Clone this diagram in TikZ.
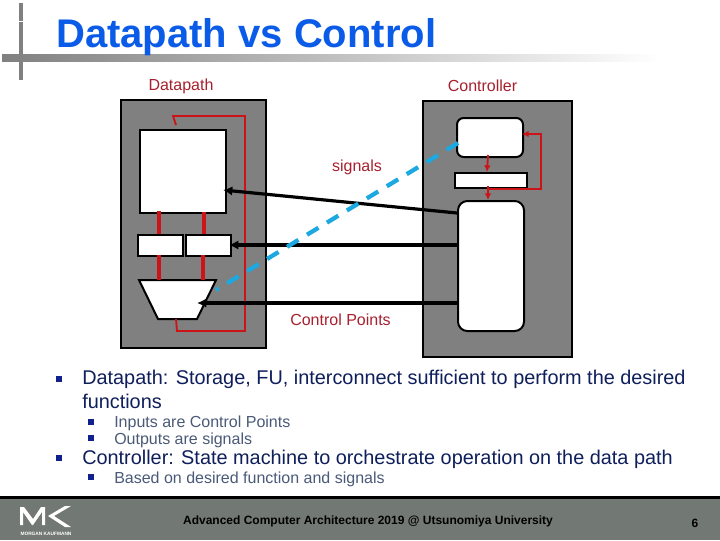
\documentclass[tikz,border=0pt]{standalone}
\usepackage{fontspec}
\setmainfont{Liberation Sans}
\usetikzlibrary{arrows.meta,shapes.geometric,fadings}
\definecolor{titleblue}{HTML}{0A5CE8}
\definecolor{lblred}{HTML}{A8202E}
\definecolor{wirered}{HTML}{CC1418}
\definecolor{sigblue}{HTML}{1CA8E0}
\definecolor{footgray}{HTML}{727873}
\definecolor{bargray}{HTML}{808080}
\definecolor{boxgray}{HTML}{808080}
\definecolor{bulletnavy}{HTML}{10208C}
\definecolor{bodytext}{HTML}{0F1F5C}
\definecolor{subtext}{HTML}{4A5A78}
\tikzset{
  panel/.style={draw=black,line width=1.6pt,fill=boxgray,inner sep=0,anchor=north west},
  block/.style={draw=black,line width=1.5pt,fill=white,inner sep=0,anchor=north west},
  rblock/.style={block,rounded corners=5pt},
  lbl/.style={text=lblred,font=\fontsize{12}{14}\selectfont,inner sep=0},
  wire/.style={draw=wirered,line width=2.4pt},
  thinwire/.style={draw=wirered,line width=1.4pt},
  ctl/.style={draw=black,line width=2.4pt,-{Latex[length=7pt,width=7pt]}},
  sig/.style={draw=sigblue,line width=3.2pt,dash pattern=on 10pt off 7.5pt},
  l1/.style={anchor=base west,inner sep=0,text=bodytext,font=\fontsize{14.9}{16}\selectfont},
  l2/.style={anchor=base west,inner sep=0,text=subtext,font=\fontsize{12}{14}\selectfont},
  bull/.style={fill=bulletnavy,draw=none,minimum size=#1,inner sep=0},
  redtip/.style={-{Latex[length=5pt,width=5pt]},draw=wirered,line width=1.4pt}
}
\begin{document}
\begin{tikzpicture}[x=0.75pt,y=-0.75pt]
\useasboundingbox (0,0) rectangle (720,540);
\fill[white] (0,0) rectangle (720,540);
% frame bars
\fill[bargray] (19,3) rectangle (23,21);
\fill[bargray] (19,22) rectangle (23,80);
\shade[left color=bargray,right color=white] (2,54) rectangle (660,61);
% footer
\fill[footgray] (0,498) rectangle (720,540);
\fill[black] (0,496) rectangle (720,499);
% title
\node[anchor=base west,inner sep=0,text=titleblue,font=\fontsize{30}{32}\selectfont\bfseries] (title) at (56,47) {Datapath vs Control};
% panels
\node[panel,minimum width=145*0.75pt,minimum height=248*0.75pt] (dp) at (120,99) {};
\node[panel,minimum width=149*0.75pt,minimum height=256*0.75pt] (cp) at (422,100) {};
% datapath
\node[block,minimum width=86*0.75pt,minimum height=83*0.75pt] (mem) at (138.5,129) {};
\node[block,minimum width=45*0.75pt,minimum height=21*0.75pt] (rega) at (137,234) {};
\node[block,minimum width=45*0.75pt,minimum height=21*0.75pt] (regb) at (185,234) {};
\draw[black,line width=1.5pt,fill=white] (139,280) coordinate (alutl) -- (216,280) coordinate (alutr) -- (197,319) coordinate (alubr) -- (158,319) coordinate (alubl) -- cycle;
% red wires datapath
\coordinate (la) at (159,211); \coordinate (lb) at (159,234);
\coordinate (lc) at (204,212); \coordinate (ld) at (204,234);
\coordinate (le) at (159,255); \coordinate (lf) at (159,280);
\coordinate (lg) at (203,255); \coordinate (lh) at (203,280);
\draw[wire] (la) -- (lb);
\draw[wire] (lc) -- (ld);
\draw[wire] (le) -- (lf);
\draw[wire] (lg) -- (lh);
\coordinate (ra) at (176,125); \coordinate (rb) at (173,116);
\coordinate (rc) at (245,116); \coordinate (rd) at (245,331);
\coordinate (re) at (177,331); \coordinate (rf) at (176,319);
\draw[thinwire] (ra) -- (rb) -- (rc) -- (rd) -- (re) -- (rf);
% controller
\node[rblock,minimum width=66*0.75pt,minimum height=39*0.75pt] (st) at (456,117) {};
\node[block,minimum width=72*0.75pt,minimum height=15*0.75pt] (sr) at (454,172) {};
\node[rblock,rounded corners=7pt,minimum width=66*0.75pt,minimum height=130*0.75pt] (sm) at (457,200) {};
\coordinate (ca) at (488,155); \coordinate (cb) at (487,172);
\coordinate (cc) at (488,186); \coordinate (cd) at (488,200);
\coordinate (ce) at (488,189); \coordinate (cf) at (541,189);
\coordinate (cg) at (541,134); \coordinate (ch) at (522,134);
\draw[redtip] (ca) -- (cb);
\draw[redtip] (cc) -- (cd);
\draw[redtip] (ce) -- (cf) -- (cg) -- (ch);
% control points
\coordinate (ba) at (457,213); \coordinate (bb) at (223,190);
\coordinate (bc) at (457,245); \coordinate (bd) at (229,245);
\coordinate (be) at (457,303); \coordinate (bf) at (197,303);
\draw[ctl] (ba) -- (bb);
\draw[ctl] (bc) -- (bd);
\draw[ctl] (be) -- (bf);
% signals
\coordinate (sa) at (458,143); \coordinate (sb) at (216,290);
\draw[sig] (sa) -- (sb);
% labels
\node[lbl] (tdp) at (181,86) {Datapath};
\node[lbl] (tcp) at (482.5,86) {Controller};
\node[lbl] (tsig) at (357,167) {signals};
\node[lbl] (tcpt) at (340.5,320) {Control Points};
% text
\node[bull=5pt] (b1) at (59,379) {};
\node[l1] (t1) at (82,384) {Datapath: Storage, FU, interconnect sufficient to perform the desired};
\node[l1] (t1b) at (82,408) {functions};
\node[bull=4pt] (b2) at (91,422) {};
\node[l2] (t2) at (114,427) {Inputs are Control Points};
\node[bull=4pt] (b3) at (91,438) {};
\node[l2] (t3) at (114,444) {Outputs are signals};
\node[bull=5pt] (b4) at (59,458) {};
\node[l1] (t4) at (82,464) {Controller: State machine to orchestrate operation on the data path};
\node[bull=4pt] (b5) at (91,477) {};
\node[l2] (t5) at (114,483) {Based on desired function and signals};
% footer text
\node[anchor=base,inner sep=0,font=\fontsize{9}{10}\selectfont\bfseries] (foot) at (368,524) {Advanced Computer Architecture 2019 @ Utsunomiya University};
\node[anchor=base,inner sep=0,font=\fontsize{9}{10}\selectfont\bfseries] (pg) at (695,527) {6};
% logo
\fill[white] (20,525) -- (20,507) -- (24,507) -- (33,519) -- (41,507) -- (45,507) -- (45,525) -- (42,525) -- (42,512) -- (33,525) -- (32,525) -- (23,512) -- (23,525) -- cycle;
\fill[white] (71,506) -- (54,516) -- (71,527) -- (65,527) -- (48,516) -- (65,506) -- cycle;
\node[anchor=center,inner sep=0,text=white,font=\fontsize{3.6}{4}\selectfont\bfseries] (mk) at (46,534) {MORGAN KAUFMANN};
\end{tikzpicture}
\end{document}
